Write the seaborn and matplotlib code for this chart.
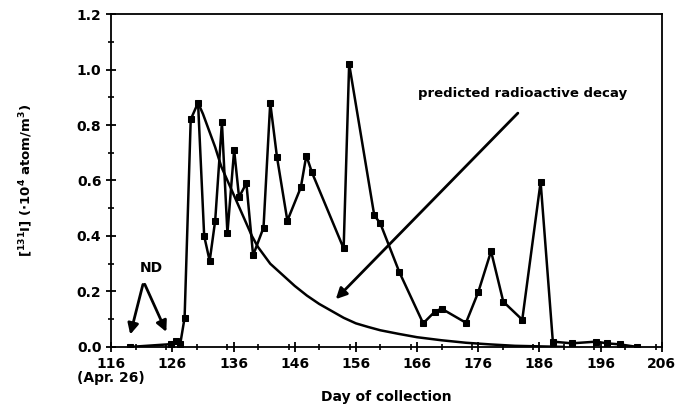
import matplotlib
matplotlib.use("Agg")
import matplotlib.pyplot as plt
from matplotlib.ticker import MultipleLocator, FormatStrFormatter
import seaborn as sns

# measured I-131 concentration (x10^4 atom/m3) by day of collection
days = [119.1, 125.8, 126.6, 127.3, 128.0, 129.0, 130.2, 131.2, 132.1, 133.0,
        134.1, 135.0, 136.1, 136.9, 138.1, 139.2, 140.9, 142.0, 143.1, 144.8,
        147.0, 147.9, 148.8, 154.0, 154.9, 159.0, 160.0, 163.1, 167.0, 168.9,
        170.0, 174.0, 176.0, 178.1, 180.1, 183.2, 186.2, 188.2, 191.3, 195.3,
        197.0, 199.2, 202.0]
conc = [0.0, 0.01, 0.02, 0.012, 0.105, 0.82, 0.88, 0.40, 0.31, 0.455,
        0.81, 0.41, 0.71, 0.54, 0.59, 0.33, 0.43, 0.88, 0.685, 0.455,
        0.575, 0.69, 0.63, 0.355, 1.02, 0.475, 0.445, 0.27, 0.085, 0.127,
        0.138, 0.087, 0.197, 0.345, 0.163, 0.098, 0.595, 0.019, 0.013, 0.019,
        0.013, 0.009, 0.0]

# predicted radioactive decay curve
decay_days = [130.2, 131, 132, 133, 134, 135, 136, 137, 138, 139, 140, 141, 142,
              144, 146, 148, 150, 152, 154, 156, 158, 160, 163, 166, 170, 174,
              178, 182, 186, 190]
decay_vals = [0.88, 0.84, 0.78, 0.72, 0.65, 0.60, 0.55, 0.50, 0.45, 0.40, 0.36,
              0.33, 0.30, 0.26, 0.22, 0.185, 0.155, 0.13, 0.105, 0.085, 0.072,
              0.06, 0.047, 0.035, 0.024, 0.015, 0.009, 0.004, 0.002, 0.0]

xtick_vals = list(range(116, 207, 10))
xtick_labels = ["116\n(Apr. 26)"] + [str(v) for v in xtick_vals[1:]]

sns.set_style("ticks")
plt.rcParams['font.family'] = ['DejaVu Sans']
plt.rcParams['font.weight'] = 'bold'
plt.rcParams['mathtext.fontset'] = 'dejavusans'
plt.rcParams['text.color'] = 'black'
plt.rcParams['axes.labelcolor'] = 'black'
plt.rcParams['xtick.color'] = 'black'
plt.rcParams['ytick.color'] = 'black'

fig = plt.figure(figsize=(6.78, 4.13), dpi=100)
ax = fig.add_axes([0.164, 0.160, 0.812, 0.806])

sns.lineplot(x=decay_days, y=decay_vals, color='black', lw=1.8, ax=ax, sort=False)
sns.lineplot(x=days, y=conc, color='black', lw=1.8, marker='s', markersize=5,
             markeredgecolor='black', ax=ax, sort=False)

ax.set_xlim(116, 206)
ax.set_ylim(0, 1.2)
ax.set_xticks(xtick_vals)
ax.set_xticklabels(xtick_labels, fontweight='bold', fontsize=10, linespacing=1.0)
ax.xaxis.set_minor_locator(MultipleLocator(5))
ax.yaxis.set_major_locator(MultipleLocator(0.2))
ax.yaxis.set_minor_locator(MultipleLocator(0.1))
ax.yaxis.set_major_formatter(FormatStrFormatter('%.1f'))
for lbl in ax.get_yticklabels():
    lbl.set_fontweight('bold')
    lbl.set_fontsize(10)
ax.tick_params(which='major', direction='inout', length=7, width=1.3, colors='black')
ax.tick_params(which='minor', direction='inout', length=4, width=1.2, colors='black')
for s in ax.spines.values():
    s.set_linewidth(1.3)
    s.set_color('black')

ax.set_xlabel("Day of collection", fontweight='bold', fontsize=10, labelpad=4)
ax.set_ylabel(r"[$\mathbf{^{131}}$I] ($\bullet$10$\mathbf{^{4}}$ atom/m$\mathbf{^{3}}$)",
              fontweight='bold', fontsize=9.5, labelpad=30)

arrow = dict(arrowstyle='-|>', lw=2, color='black', mutation_scale=16)
ax.text(122.6, 0.285, "ND", fontweight='bold', fontsize=10, ha='center', va='center')
ax.annotate('', xy=(119.0, 0.035), xytext=(121.3, 0.235), arrowprops=arrow)
ax.annotate('', xy=(125.2, 0.045), xytext=(121.3, 0.235), arrowprops=arrow)

ax.text(183.3, 0.915, "predicted radioactive decay", fontweight='bold', fontsize=9.5,
        ha='center', va='center')
ax.annotate('', xy=(152.4, 0.165), xytext=(182.8, 0.85), arrowprops=arrow)

fig.savefig("out.png", dpi=100)
